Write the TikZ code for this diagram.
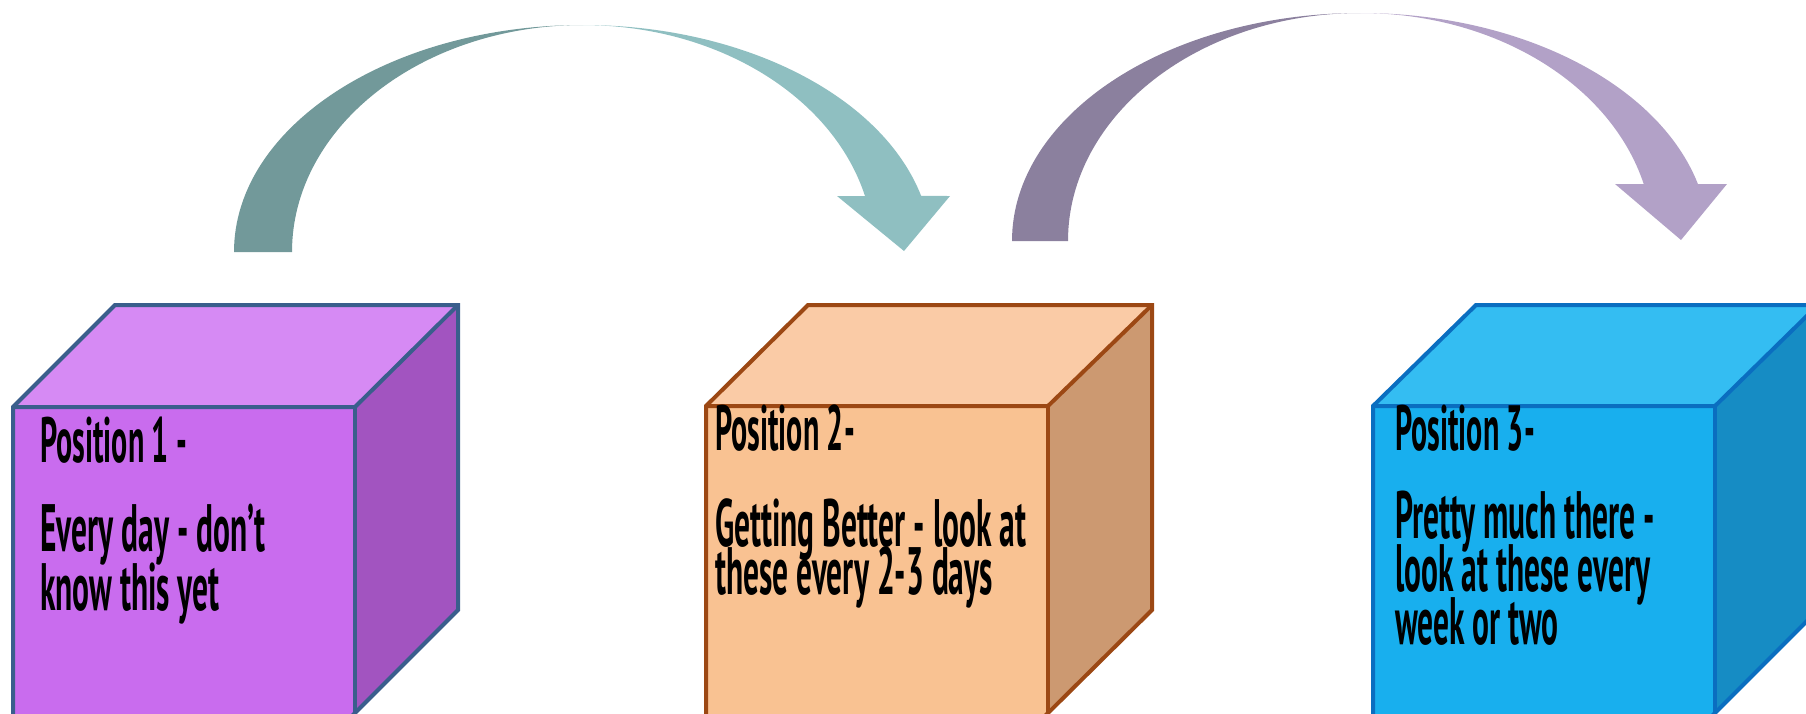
\documentclass[tikz,border=0pt]{standalone}
\usepackage{fontspec}
\setmainfont{PT Sans}[FakeStretch=0.47]
\usepackage{tikz}
\usetikzlibrary{positioning}

\definecolor{lilacfront}{RGB}{201,108,238}
\definecolor{lilactop}{RGB}{214,138,244}
\definecolor{lilacside}{RGB}{162,84,192}
\definecolor{lilacedge}{RGB}{58,94,140}
\definecolor{peachfront}{RGB}{249,194,146}
\definecolor{peachtop}{RGB}{250,203,166}
\definecolor{peachside}{RGB}{204,153,113}
\definecolor{peachedge}{RGB}{156,72,20}
\definecolor{skyfront}{RGB}{24,175,238}
\definecolor{skytop}{RGB}{52,189,242}
\definecolor{skyside}{RGB}{22,140,196}
\definecolor{skyedge}{RGB}{10,110,192}
\definecolor{tealback}{RGB}{114,153,154}
\definecolor{tealfront}{RGB}{143,191,193}
\definecolor{mauveback}{RGB}{139,128,158}
\definecolor{mauvefront}{RGB}{178,161,199}

\lineskiplimit=-100pt

\begin{document}
\begin{tikzpicture}[
    x=1pt, y=1pt,
    cube edge/.style={
        line width=4pt,
        line join=miter
    },
    pos title/.style={
        anchor=base west,
        inner sep=0pt,
        font=\fontsize{64}{64}\selectfont\bfseries
    },
    % base of a multi-line node is its last line
    pos text/.style={
        anchor=base west,
        inner sep=0pt,
        align=left,
        font=\fontsize{67}{#1}\selectfont\bfseries
    },
    pos text/.default=53
]
    \useasboundingbox (0,0) rectangle (1806,-713);

    % first arrow: back half, then front half with the head
    \fill[tealback] (234,-252)
        arc[start angle=180, end angle=90, x radius=349, y radius=227]
        arc[start angle=90, end angle=180, x radius=291, y radius=227] -- cycle;
    \fill[tealfront] (583,-25)
        arc[start angle=90, end angle=14.3, x radius=349, y radius=227]
        -- (950,-196) -- (904,-251) -- (837,-196) -- (865,-196)
        arc[start angle=14.3, end angle=90, x radius=291, y radius=227] -- cycle;

    % second arrow
    \fill[mauveback] (1012,-241)
        arc[start angle=180, end angle=90, x radius=348.5, y radius=228]
        arc[start angle=90, end angle=180, x radius=292.5, y radius=228] -- cycle;
    \fill[mauvefront] (1360.5,-13)
        arc[start angle=90, end angle=14.48, x radius=348.5, y radius=228]
        -- (1727,-184) -- (1681,-240) -- (1615,-184) -- (1643.7,-184)
        arc[start angle=14.48, end angle=90, x radius=292.5, y radius=228] -- cycle;

    % cube 1
    \fill[lilactop] (13,-407) -- (115,-305) -- (458,-305) -- (355,-407) -- cycle;
    \fill[lilacside] (355,-407) -- (458,-305) -- (458,-610) -- (355,-713) -- cycle;
    \fill[lilacfront] (13,-407) rectangle (355,-720);
    \draw[cube edge, lilacedge] (13,-720) -- (13,-407) -- (115,-305) -- (458,-305)
        -- (458,-610) -- (352,-716);
    \draw[cube edge, lilacedge] (13,-407) -- (355,-407) -- (458,-305);
    \draw[cube edge, lilacedge] (355,-407) -- (355,-720);

    % cube 2
    \fill[peachtop] (706,-406) -- (808,-305) -- (1152,-305) -- (1048,-406) -- cycle;
    \fill[peachside] (1048,-406) -- (1152,-305) -- (1152,-610) -- (1048,-713) -- cycle;
    \fill[peachfront] (706,-406) rectangle (1048,-720);
    \draw[cube edge, peachedge] (706,-720) -- (706,-406) -- (808,-305) -- (1152,-305)
        -- (1152,-610) -- (1045,-716);
    \draw[cube edge, peachedge] (706,-406) -- (1048,-406) -- (1152,-305);
    \draw[cube edge, peachedge] (1048,-406) -- (1048,-720);

    % cube 3 (runs off the right edge)
    \fill[skytop] (1373,-406) -- (1476,-305) -- (1818,-305) -- (1715,-406) -- cycle;
    \fill[skyside] (1715,-406) -- (1818,-305) -- (1818,-610) -- (1715,-713) -- cycle;
    \fill[skyfront] (1373,-406) rectangle (1715,-720);
    \draw[cube edge, skyedge] (1373,-720) -- (1373,-406) -- (1476,-305) -- (1818,-305)
        -- (1818,-610) -- (1712,-716);
    \draw[cube edge, skyedge] (1373,-406) -- (1715,-406) -- (1818,-305);
    \draw[cube edge, skyedge] (1715,-406) -- (1715,-720);

    % texts on the front faces
    \node[pos title] (title1) at (40,-462) {Position 1 -};
    \node[pos text=59] (text1) at (40,-610) {Every day - don't\\know this yet};
    \node[pos title] (title2) at (715,-450) {Position 2-};
    \node[pos text=48] (text2) at (715,-594) {Getting Better - look at\\these every 2-3 days};
    \node[pos title] (title3) at (1395,-450) {Position 3-};
    \node[pos text=53] (text3) at (1395,-644) {Pretty much there -\\look at these every\\week or two};
\end{tikzpicture}
\end{document}
